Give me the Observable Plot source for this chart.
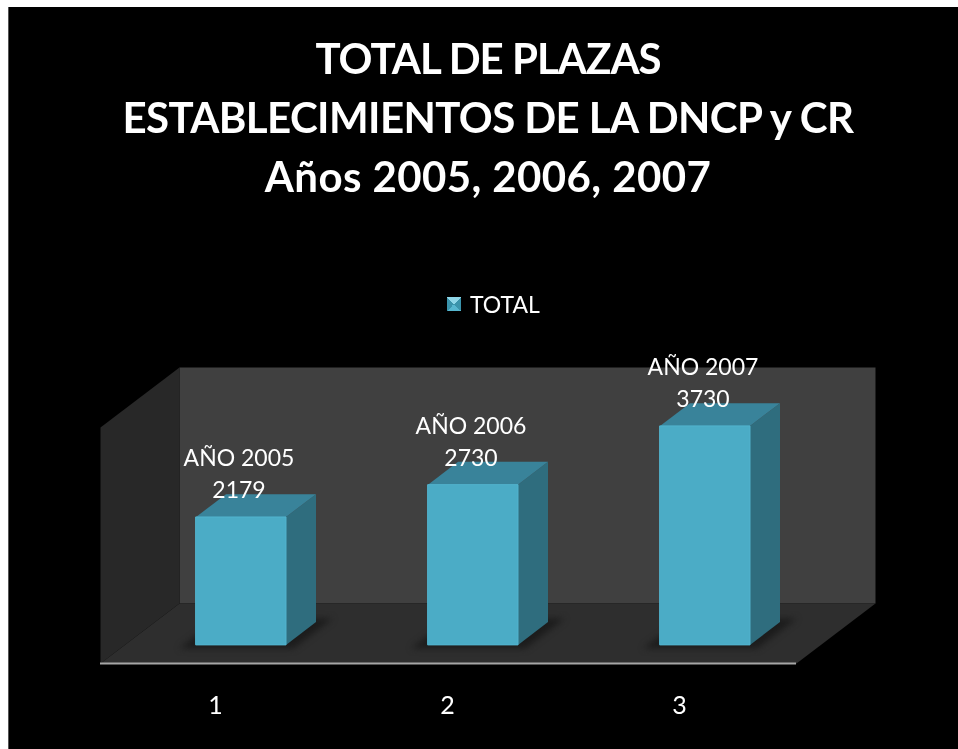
<!DOCTYPE html>
<html lang="es">
<head>
<meta charset="utf-8">
<script src="https://cdn.jsdelivr.net/npm/d3@7"></script>
<script src="https://cdn.jsdelivr.net/npm/@observablehq/plot@0.6"></script>
<style>
html,body{margin:0;padding:0;background:#fff;overflow:hidden;}
#panel{position:absolute;left:8px;top:7px;width:950px;height:742px;background:#000;border-left:1px solid #555;box-sizing:border-box;color:#fff;font-family:Lato,"Open Sans",sans-serif;filter:blur(.5px);}
#title{position:absolute;left:0;top:22px;width:958px;text-align:center;font-size:42px;font-weight:700;line-height:59px;}
#title div:nth-child(1){letter-spacing:-1px;}
#title div:nth-child(2){letter-spacing:-.6px;}
#title div:nth-child(3){letter-spacing:.4px;}
#legend{position:absolute;left:438px;top:284px;height:26px;display:flex;align-items:center;font-size:23px;gap:9px;}
#swatch{width:14px;height:14px;background:conic-gradient(from 315deg,#8fd6e8 0 90deg,#3a93ab 90deg 180deg,#56b6cf 180deg 270deg,#3a93ab 270deg);}
#chart{position:absolute;left:0;top:323px;}
svg{display:block;background:transparent;}
</style>
</head>
<body>
<div id="panel">
  <div id="title"></div>
  <div id="legend"><span id="swatch"></span><span id="legendLabel"></span></div>
  <div id="chart"></div>
</div>
<script>
const titleLines = ["TOTAL DE PLAZAS", "ESTABLECIMIENTOS DE LA DNCP y CR", "Años 2005, 2006, 2007"];
const seriesName = "TOTAL";
const categories = [1, 2, 3];
const years = ["AÑO 2005", "AÑO 2006", "AÑO 2007"];
const totals = [2179, 2730, 3730];

const titleEl = document.getElementById("title");
titleLines.forEach(t => { const d = document.createElement("div"); d.textContent = t; titleEl.appendChild(d); });
document.getElementById("legendLabel").textContent = seriesName;

// Oblique 3D projection expressed in data units
const depthX = 0.3405, depthY = 1022;
const halfBar = 0.194, zFront = 0.31, zBack = 0.69;
const yMax = 4020, xMin = 0.5, xMax = 3.5;
const project = (x, y, z) => ({x: x + z * depthX, y: y + z * depthY});

const poly = (id, pts) => pts.map(p => ({id, ...p}));
const face = (data, fill, extra = {}) =>
  Plot.line(data, {x: "x", y: "y", z: "id", fill, stroke: "none", curve: "linear-closed", ...extra});

const bars = categories.map((c, i) => ({c, v: totals[i], year: years[i]}));

const backWall = poly("back", [project(xMin,0,1), project(xMax,0,1), project(xMax,yMax,1), project(xMin,yMax,1)]);
const sideWall = poly("side", [project(xMin,0,0), project(xMin,0,1), project(xMin,yMax,1), project(xMin,yMax,0)]);
const floor = poly("floor", [project(xMin,0,0), project(xMax,0,0), project(xMax,0,1), project(xMin,0,1)]);

const shadows = bars.flatMap(b => poly(b.c, [
  project(b.c-0.245,0,0.25), project(b.c+0.245,0,0.25), project(b.c+0.245,0,0.75), project(b.c-0.245,0,0.75)
]));
const sides = bars.flatMap(b => poly(b.c, [
  project(b.c+halfBar,0,zFront), project(b.c+halfBar,0,zBack), project(b.c+halfBar,b.v,zBack), project(b.c+halfBar,b.v,zFront)
]));
const tops = bars.flatMap(b => poly(b.c, [
  project(b.c-halfBar,b.v,zFront), project(b.c+halfBar,b.v,zFront), project(b.c+halfBar,b.v,zBack), project(b.c-halfBar,b.v,zBack)
]));
const fronts = bars.flatMap(b => poly(b.c, [
  project(b.c-halfBar,0,zFront), project(b.c+halfBar,0,zFront), project(b.c+halfBar,b.v,zFront), project(b.c-halfBar,b.v,zFront)
]));

const chart = Plot.plot({
  width: 949,
  height: 419,
  marginTop: 97,
  marginBottom: 86,
  marginLeft: 91,
  marginRight: 162,
  style: {background: "transparent", color: "#fff", fontFamily: "Lato, 'Open Sans', sans-serif", overflow: "visible"},
  x: {domain: [xMin, xMax]},
  y: {domain: [0, yMax], axis: null},
  marks: [
    face(backWall, "#404040"),
    face(sideWall, "#282828"),
    face(floor, "#2e2e2e"),
    face(shadows, "#1c1c1c", {imageFilter: "blur(3px)"}),
    face(sides, "#2f6d7e"),
    face(tops, "#39839a"),
    face(fronts, "#4bacc6", {stroke: "#52b4ce", strokeWidth: 1, strokeLinejoin: "round"}),
    Plot.ruleY([0], {x1: xMin, x2: xMax, stroke: "#a6a6a6", strokeWidth: 2}),
    Plot.text(bars, {
      x: b => project(b.c, b.v, zFront).x,
      y: b => project(b.c, b.v, zFront).y,
      text: b => `${b.year}\n${b.v}`,
      fontSize: 23,
      lineHeight: 1.39,
      lineAnchor: "bottom",
      dx: -2,
      dy: -19,
      fill: "#fff"
    }),
    Plot.axisX({
      ticks: categories,
      tickFormat: d => String(d),
      tickSize: 0,
      tickPadding: 33,
      fontSize: 25,
      dx: -1,
      label: null,
      color: "#fff"
    })
  ]
});
document.getElementById("chart").appendChild(chart);
</script>
</body>
</html>
